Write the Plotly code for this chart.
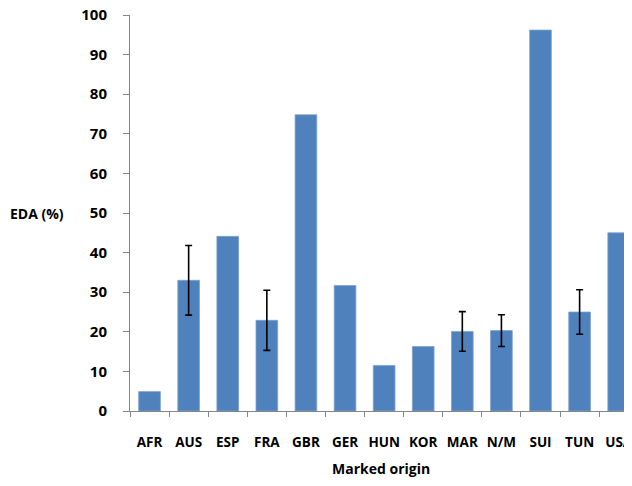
import plotly.graph_objects as go

categories = ["AFR", "AUS", "ESP", "FRA", "GBR", "GER", "HUN", "KOR", "MAR", "N/M", "SUI", "TUN", "USA"]
eda_values = [4.9, 33.0, 44.1, 22.9, 74.8, 31.7, 11.5, 16.3, 20.1, 20.3, 96.2, 25.0, 45.0]
error_categories = ["AUS", "FRA", "MAR", "N/M", "TUN"]
error_sizes = [8.8, 7.6, 5.0, 4.0, 5.6]

y_ticks = [0, 10, 20, 30, 40, 50, 60, 70, 80, 90, 100]

value_of = dict(zip(categories, eda_values))
error_values = [value_of[c] for c in error_categories]

FONT = "Open Sans, Noto Sans, DejaVu Sans, sans-serif"
AXIS_GRAY = "#868686"

fig = go.Figure()
fig.add_trace(go.Bar(
    x=categories, y=eda_values,
    marker=dict(color="#4F81BD", line=dict(width=0.8, color="#7FA2D0")),
    showlegend=False,
))
fig.add_trace(go.Scatter(
    x=error_categories, y=error_values, mode="markers",
    marker=dict(size=1, opacity=0),
    error_y=dict(type="data", array=error_sizes, visible=True,
                 color="black", thickness=1.6, width=3.5),
    showlegend=False, hoverinfo="skip",
))

fig.update_layout(
    width=624, height=470,
    margin=dict(l=122, r=0, t=7, b=67, autoexpand=False),
    paper_bgcolor="white", plot_bgcolor="white",
    bargap=0.445,
    font=dict(family=FONT, size=13, color="black"),
    xaxis=dict(
        type="category", range=[-0.5, 12.34],
        showline=True, linecolor=AXIS_GRAY, linewidth=1,
        ticks="outside", tickson="boundaries", ticklen=5, tickcolor=AXIS_GRAY,
        tickfont=dict(family=FONT, size=13.5, color="black", weight="bold"),
        tickangle=0,
        ticklabelstandoff=19,
        ticklabeloverflow="allow",
        automargin=False,
        showgrid=False, zeroline=False,
    ),
    yaxis=dict(
        range=[0, 100], tickvals=y_ticks,
        showline=True, linecolor=AXIS_GRAY, linewidth=1,
        ticks="outside", ticklen=6, tickcolor=AXIS_GRAY,
        tickfont=dict(family=FONT, size=15, color="black", weight="bold"),
        ticklabelstandoff=13,
        ticklabeloverflow="allow",
        automargin=False,
        showgrid=False, zeroline=False,
    ),
    annotations=[
        dict(text="<b>EDA (%)</b>", xref="paper", yref="y", x=-0.243, y=50,
             xanchor="left", yanchor="middle", showarrow=False,
             font=dict(family=FONT, size=14, color="black")),
        dict(text="<b>Marked origin</b>", xref="paper", yref="paper", x=0.5, y=-0.144,
             xanchor="center", yanchor="middle", showarrow=False,
             font=dict(family=FONT, size=14, color="black")),
    ],
)

fig.write_html("out.html")
